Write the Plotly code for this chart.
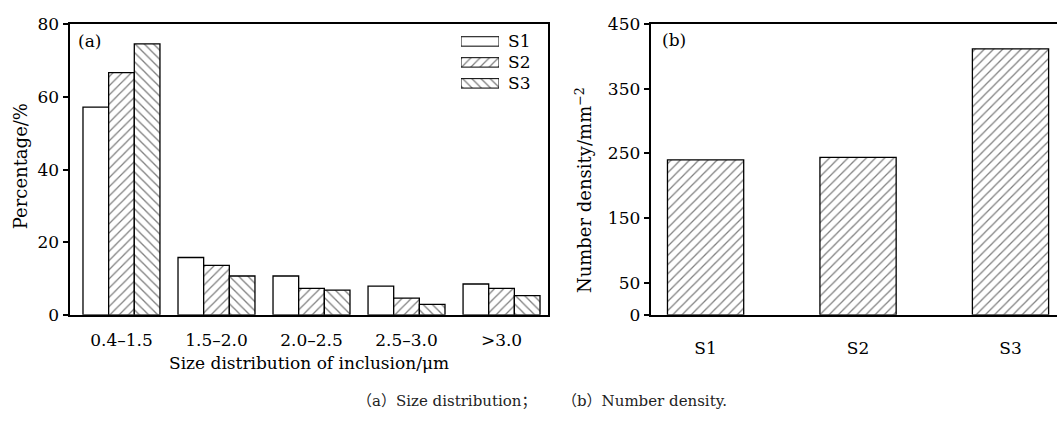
import plotly.graph_objects as go

W, H = 1057, 423

# ---------------- data ----------------
size_bins = ["0.4\u20131.5", "1.5\u20132.0", "2.0\u20132.5", "2.5\u20133.0", ">3.0"]
pct_S1 = [57.2, 15.8, 10.7, 7.9, 8.5]
pct_S2 = [66.7, 13.6, 7.3, 4.6, 7.3]
pct_S3 = [74.6, 10.7, 6.8, 2.9, 5.3]

samples = ["S1", "S2", "S3"]
density = [240, 244, 412]

ya_ticks = [0, 20, 40, 60, 80]
yb_ticks = [0, 50, 150, 250, 350, 450]

FONT = "DejaVu Serif"
TICK_SIZE = 17


def px(x):
    return x / W


def py(y):
    return 1 - y / H


PAT = dict(fgcolor="black", bgcolor="white", size=6.5, solidity=0.2)

fig = go.Figure()

bin_pos = list(range(len(size_bins)))
series = [("S1", pct_S1, ""), ("S2", pct_S2, "/"), ("S3", pct_S3, "\\")]
for name, vals, shape in series:
    fig.add_trace(go.Bar(
        x=bin_pos, y=vals, name=name, xaxis="x", yaxis="y",
        marker=dict(color="white", line=dict(color="black", width=1.3),
                    pattern=dict(shape=shape, **PAT)),
        showlegend=False,
    ))

fig.add_trace(go.Bar(
    x=list(range(len(samples))), y=density, xaxis="x2", yaxis="y2", width=0.5,
    marker=dict(color="white", line=dict(color="black", width=1.3),
                pattern=dict(shape="/", **PAT)),
    showlegend=False,
))

# legend drawn as a small inset bar chart
fig.add_trace(go.Bar(
    x=[1, 1, 1], y=samples, orientation="h", xaxis="x3", yaxis="y3", width=0.45,
    marker=dict(color="white", line=dict(color="black", width=1),
                pattern=dict(shape=["", "/", "\\"], **PAT)),
    showlegend=False,
))

dom_y = [py(320), py(15)]
axis_common = dict(showline=True, linecolor="black", linewidth=2, showgrid=False,
                   zeroline=False, tickfont=dict(family=FONT, size=TICK_SIZE, color="black"))

fig.update_layout(
    width=W, height=H,
    margin=dict(l=0, r=0, t=0, b=0),
    paper_bgcolor="white", plot_bgcolor="white",
    barmode="group", bargap=0.19, bargroupgap=0,
    xaxis=dict(domain=[px(69.5), px(548)], range=[-0.547, 4.489], anchor="y",
               tickmode="array", tickvals=bin_pos, ticktext=size_bins,
               ticks="", mirror=True, ticklabelstandoff=9, **axis_common),
    yaxis=dict(domain=dom_y, range=[0, 80], anchor="x", tickmode="array",
               tickvals=ya_ticks, ticks="outside", ticklen=5, tickwidth=1.5,
               tickcolor="black", mirror=True, **axis_common),
    xaxis2=dict(domain=[px(650.7), 1.0], range=[-0.36, 2.305], anchor="y2",
                tickmode="array", tickvals=list(range(len(samples))), ticktext=samples,
                ticks="", mirror=True, ticklabelstandoff=17, **axis_common),
    yaxis2=dict(domain=dom_y, range=[0, 450], anchor="x2", tickmode="array",
                tickvals=yb_ticks, ticks="outside", ticklen=5, tickwidth=1.5,
                tickcolor="black", mirror=False, **axis_common),
    xaxis3=dict(domain=[px(461), px(499)], range=[0, 1], anchor="y3",
                visible=False, fixedrange=True),
    yaxis3=dict(domain=[py(88), py(22)], range=[2.5, -0.5], anchor="x3",
                type="category", side="right", showline=False, showgrid=False,
                zeroline=False, ticks="", ticklabelstandoff=8,
                tickfont=dict(family=FONT, size=TICK_SIZE, color="black")),
)

ann_font = dict(family=FONT, size=17, color="black")
title_font = dict(family=FONT, size=18, color="black")


def note(text, x, y, xanchor="center", angle=0, font=ann_font):
    fig.add_annotation(text=text, x=px(x), y=py(y), xref="paper", yref="paper",
                       xanchor=xanchor, yanchor="middle", textangle=angle,
                       showarrow=False, font=font)


note("(a)", 76, 33, xanchor="left")
note("(b)", 660, 32, xanchor="left")
note("Percentage/%", 20, 164, angle=-90, font=title_font)
note("Number density/mm<sup>\u22122</sup>", 584, 189, angle=-90, font=title_font)
note("Size distribution of inclusion/\u03bcm", 309, 370, font=ann_font)

cap_font = dict(family="DejaVu Serif, Noto Sans CJK SC", size=15, color="#222222")
note("\uff08a\uff09Size distribution\uff1b", 355, 410, xanchor="left", font=cap_font)
note("\uff08b\uff09Number density.", 560, 410, xanchor="left", font=cap_font)

fig.write_html("out.html")
